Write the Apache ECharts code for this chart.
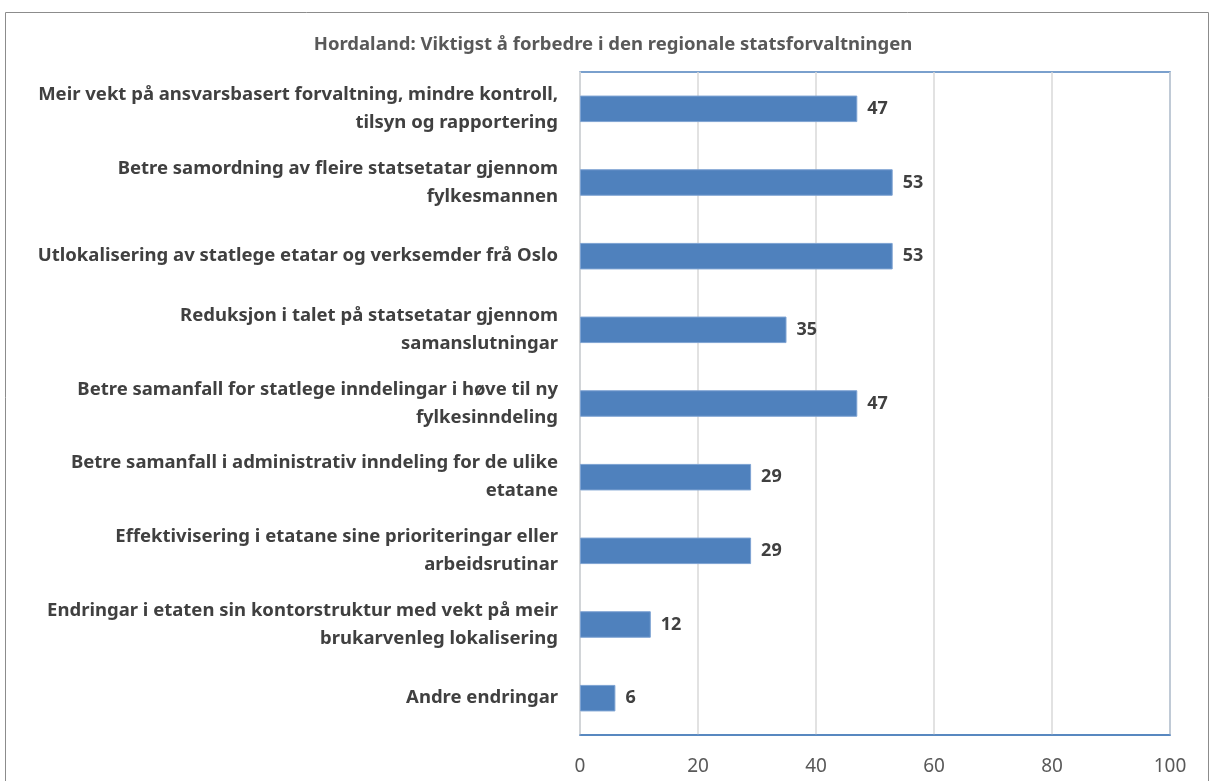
<!DOCTYPE html>
<html>
<head>
<meta charset="utf-8">
<script src="https://cdn.jsdelivr.net/npm/echarts@6/dist/echarts.min.js"></script>
<style>
  html, body { margin: 0; padding: 0; background: #fff; }
  #chart { width: 1214px; height: 781px; }
</style>
</head>
<body>
<div id="chart"></div>
<script>
const title = 'Hordaland: Viktigst å forbedre i den regionale statsforvaltningen';
const categories = [
    'Meir vekt på ansvarsbasert forvaltning, mindre kontroll,\ntilsyn og rapportering',
    'Betre samordning av fleire statsetatar gjennom\nfylkesmannen',
    'Utlokalisering av statlege etatar og verksemder frå Oslo',
    'Reduksjon i talet på statsetatar gjennom\nsamanslutningar',
    'Betre samanfall for statlege inndelingar i høve til ny\nfylkesinndeling',
    'Betre samanfall i administrativ inndeling for de ulike\netatane',
    'Effektivisering i etatane sine prioriteringar eller\narbeidsrutinar',
    'Endringar i etaten sin kontorstruktur med vekt på meir\nbrukarvenleg lokalisering',
    'Andre endringar'
];
const values = [47, 53, 53, 35, 47, 29, 29, 12, 6];
const xTicks = [0, 20, 40, 60, 80, 100];

const font = '"Noto Sans", sans-serif';
const chart = echarts.init(document.getElementById('chart'));
chart.setOption({
    animation: false,
    title: {
        text: title,
        left: 608,
        top: 30,
        textAlign: 'center',
        textStyle: { fontFamily: font, fontSize: 18.5, fontWeight: 'bold', color: '#595959' }
    },
    graphic: [{
        type: 'rect',
        shape: { x: 5.5, y: 12.5, width: 1203, height: 800 },
        style: { fill: 'none', stroke: '#8c8c8c', lineWidth: 1 },
        silent: true
    }],
    grid: {
        left: 580,
        right: 44,
        top: 72,
        bottom: 46,
        show: true,
        borderColor: '#4f81bd',
        borderWidth: 1.5
    },
    xAxis: {
        type: 'value',
        min: xTicks[0],
        max: xTicks[xTicks.length - 1],
        interval: 20,
        axisLine: { show: true, lineStyle: { color: '#4f81bd', width: 1.5 } },
        axisTick: { show: false },
        splitLine: { show: true, lineStyle: { color: '#d9d9d9', width: 1.5 } },
        axisLabel: { fontFamily: font, fontSize: 19, color: '#595959', margin: 22 }
    },
    yAxis: {
        type: 'category',
        inverse: true,
        data: categories,
        axisLine: { show: true, lineStyle: { color: '#d9d9d9', width: 1.5 } },
        axisTick: { show: false },
        axisLabel: {
            fontFamily: font, fontSize: 18.5, fontWeight: 'bold', color: '#404040',
            lineHeight: 28, margin: 22, align: 'right'
        }
    },
    series: [{
        type: 'bar',
        data: values,
        barWidth: '36%',
        itemStyle: { color: '#4f81bd', borderColor: '#7ea3d3', borderWidth: 1 },
        label: {
            show: true,
            position: 'right',
            distance: 10,
            fontFamily: font, fontSize: 18, fontWeight: 'bold', color: '#404040'
        }
    }]
});
</script>
</body>
</html>
